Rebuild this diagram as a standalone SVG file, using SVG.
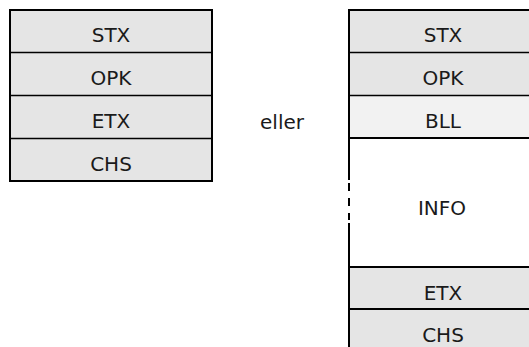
<svg xmlns="http://www.w3.org/2000/svg" width="529" height="347" viewBox="0 0 529 347">
  <style>
    .cell { fill: #e5e5e5; }
    .cell-light { fill: #f2f2f2; }
    .frame { fill: none; stroke: #000; stroke-width: 2; }
    .rule { stroke: #000; stroke-width: 1.3; }
    .rule-bold { stroke: #000; stroke-width: 2; }
    text { font-family: "DejaVu Sans", Verdana, sans-serif; font-size: 20px; fill: #1a1a1a; text-anchor: middle; }
  </style>

  <!-- Short frame: STX / OPK / ETX / CHS -->
  <g id="frame-short">
    <rect class="cell" x="10" y="10" width="202" height="171"/>
    <line class="rule" x1="10" y1="52.5" x2="212" y2="52.5"/>
    <line class="rule" x1="10" y1="95.5" x2="212" y2="95.5"/>
    <line class="rule" x1="10" y1="138.5" x2="212" y2="138.5"/>
    <rect class="frame" x="10" y="10" width="202" height="171"/>
    <text x="111" y="42">STX</text>
    <text x="111" y="85">OPK</text>
    <text x="111" y="128">ETX</text>
    <text x="111" y="171">CHS</text>
  </g>

  <g id="label-eller">
    <text x="282" y="129">eller</text>
  </g>

  <!-- Long frame: STX / OPK / BLL / INFO / ETX / CHS -->
  <g id="frame-long">
    <rect class="cell" x="349" y="10" width="180" height="85"/>
    <rect class="cell-light" x="349" y="95" width="180" height="43"/>
    <rect class="cell" x="349" y="267" width="180" height="80"/>
    <line class="rule-bold" x1="348" y1="10" x2="529" y2="10"/>
    <line class="rule" x1="349" y1="52.5" x2="529" y2="52.5"/>
    <line class="rule" x1="349" y1="95.5" x2="529" y2="95.5"/>
    <line class="rule-bold" x1="349" y1="138" x2="529" y2="138"/>
    <line class="rule-bold" x1="349" y1="267" x2="529" y2="267"/>
    <line class="rule-bold" x1="349" y1="309" x2="529" y2="309"/>
    <!-- left edge, broken inside the INFO block -->
    <line class="rule-bold" x1="349" y1="9" x2="349" y2="180"/>
    <line class="rule-bold" x1="349" y1="183" x2="349" y2="191"/>
    <line class="rule-bold" x1="349" y1="198" x2="349" y2="206"/>
    <line class="rule-bold" x1="349" y1="213" x2="349" y2="220"/>
    <line class="rule-bold" x1="349" y1="223" x2="349" y2="347"/>
    <text x="443" y="42">STX</text>
    <text x="443" y="85">OPK</text>
    <text x="443" y="128">BLL</text>
    <text x="442" y="215">INFO</text>
    <text x="443" y="300">ETX</text>
    <text x="443" y="342">CHS</text>
  </g>
</svg>
